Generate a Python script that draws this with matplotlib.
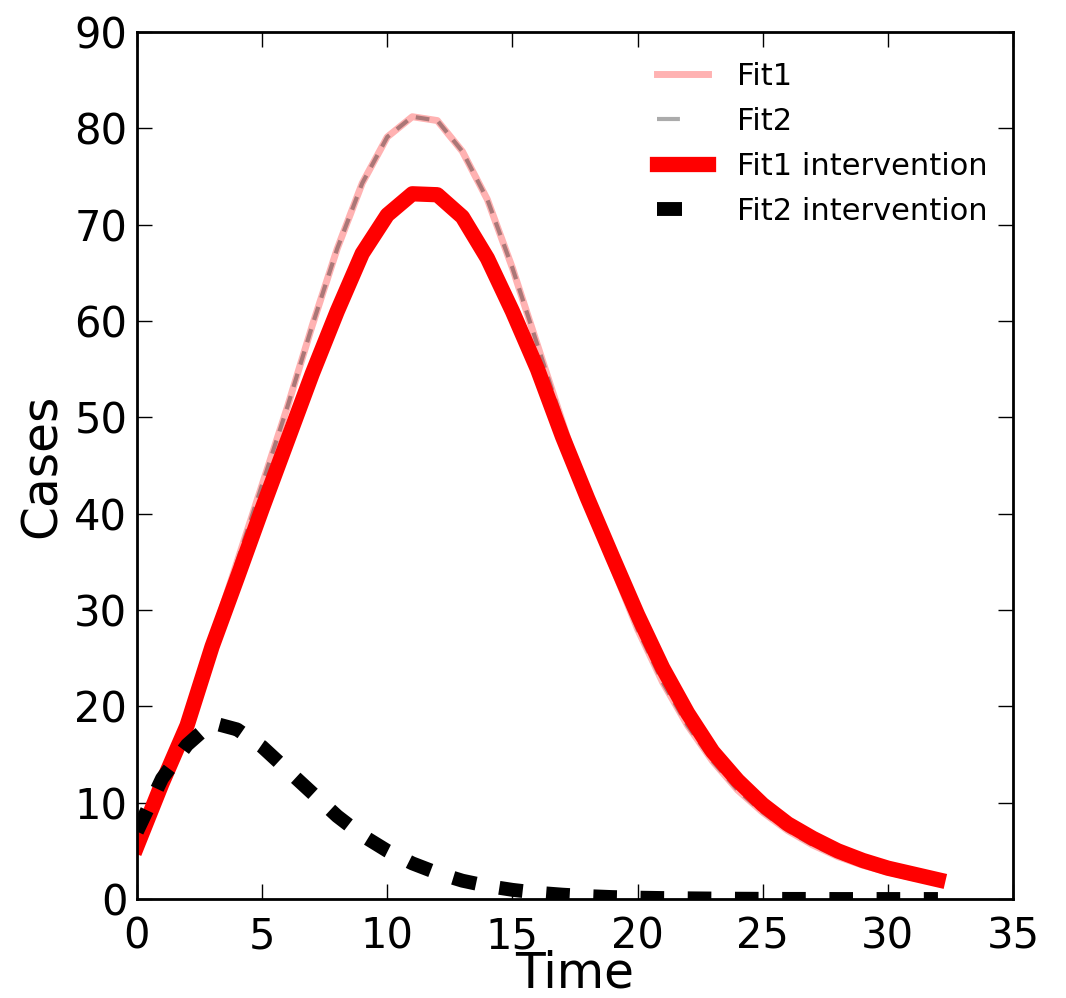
import matplotlib
matplotlib.use("Agg")
import matplotlib.pyplot as plt
from matplotlib.legend_handler import HandlerLine2D

time = list(range(0, 33))

fit1 = [5.0, 11.0, 18.0, 27.0, 35.0, 43.0, 51.0, 59.5, 67.5, 74.3, 79.1, 81.2, 80.8,
        77.6, 72.6, 65.5, 57.5, 49.5, 41.5, 34.5, 28.0, 22.5, 18.0, 14.3, 11.3,
        9.0, 7.1, 5.6, 4.4, 3.5, 2.8, 2.2, 1.8]

fit2 = [5.0, 11.0, 18.0, 27.0, 35.0, 43.0, 51.0, 59.5, 67.5, 74.3, 79.1, 81.2, 80.8,
        77.6, 72.6, 65.5, 57.5, 49.5, 41.5, 34.5, 28.0, 22.5, 18.0, 14.3, 11.3,
        9.0, 7.1, 5.6, 4.4, 3.5, 2.8, 2.2, 1.8]

fit1_int = [5.5, 12.0, 18.0, 26.2, 33.3, 40.5, 47.5, 54.5, 61.0, 67.0, 71.0, 73.2, 73.1,
            70.8, 66.5, 61.0, 55.0, 48.0, 41.6, 35.5, 29.5, 24.0, 19.3, 15.3, 12.3,
            9.8, 7.8, 6.3, 5.0, 4.0, 3.2, 2.6, 2.0]

fit2_int = [7.0, 12.5, 16.0, 18.3, 17.6, 15.8, 13.4, 11.0, 8.6, 6.6, 5.0, 3.7, 2.7,
            1.9, 1.35, 0.95, 0.65, 0.45, 0.3, 0.2, 0.14, 0.1, 0.07, 0.05, 0.03,
            0.02, 0.01, 0.01, 0.0, 0.0, 0.0, 0.0, 0.0]

labels = ["Fit1", "Fit2", "Fit1 intervention", "Fit2 intervention"]

fig = plt.figure(figsize=(10.66, 9.98), dpi=100)
ax = fig.add_axes([0.1285, 0.0992, 0.8218, 0.8688])

l1, = ax.plot(time, fit1, color="red", alpha=0.3, lw=5, label=labels[0])
l2, = ax.plot(time, fit2, color="black", alpha=0.33, lw=3, linestyle=(0, (3.3, 2.3)),
              label=labels[1])
l3, = ax.plot(time, fit1_int, color="red", lw=11, label=labels[2])
l4, = ax.plot(time, fit2_int, color="black", lw=10, linestyle=(0, (1.7, 1.7)),
              label=labels[3])

ax.set_xlim(0, 35)
ax.set_ylim(0, 90)
ax.set_xticks(range(0, 36, 5))
ax.set_yticks(range(0, 91, 10))

for s in ax.spines.values():
    s.set_linewidth(2)

ax.tick_params(direction="in", length=11, width=1, top=True, right=True,
               labelsize=30)
ax.tick_params(axis="x", pad=12)
ax.tick_params(axis="y", pad=7)

ax.set_xlabel("Time", fontsize=35, labelpad=-6)
ax.set_ylabel("Cases", fontsize=35, labelpad=6)


def gray_handle(legline, orig):
    legline.update_from(orig)
    legline.set_linestyle((0, (5.5, 12)))


def black_handle(legline, orig):
    legline.update_from(orig)
    legline.set_linestyle((0, (1.8, 4)))


leg = ax.legend(loc="upper right", bbox_to_anchor=(0.9955, 0.99), frameon=False,
                fontsize=22, handlelength=1.67, handletextpad=0.95,
                labelspacing=0.52, borderaxespad=0.3,
                handler_map={l2: HandlerLine2D(update_func=gray_handle),
                             l4: HandlerLine2D(update_func=black_handle)})

fig.savefig("out.png", dpi=100)
